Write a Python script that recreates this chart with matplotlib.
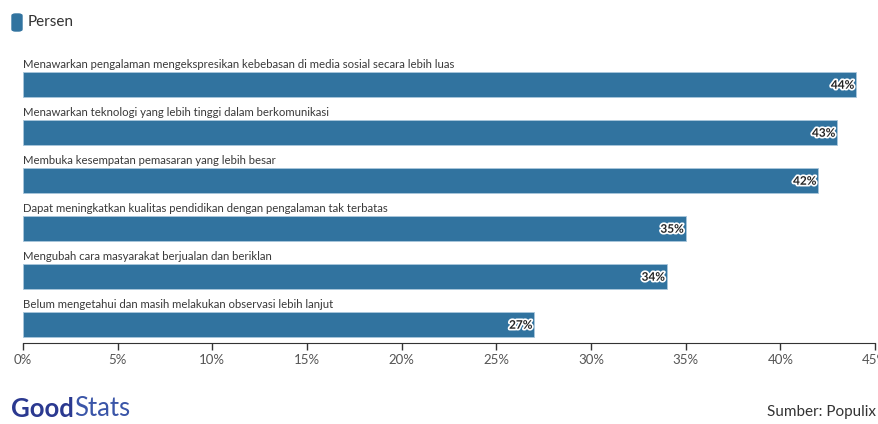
import matplotlib.pyplot as plt
import matplotlib.patheffects as pe
from matplotlib.patches import FancyBboxPatch

categories = [
    "Menawarkan pengalaman mengekspresikan kebebasan di media sosial secara lebih luas",
    "Menawarkan teknologi yang lebih tinggi dalam berkomunikasi",
    "Membuka kesempatan pemasaran yang lebih besar",
    "Dapat meningkatkan kualitas pendidikan dengan pengalaman tak terbatas",
    "Mengubah cara masyarakat berjualan dan beriklan",
    "Belum mengetahui dan masih melakukan observasi lebih lanjut",
]
values = [44, 43, 42, 35, 34, 27]
ticks = [0, 5, 10, 15, 20, 25, 30, 35, 40, 45]

bar_color = "#31739f"
plt.rcParams['font.family'] = ['Lato', 'DejaVu Sans']

fig = plt.figure(figsize=(8.79, 4.24), dpi=100)
ax = fig.add_axes([23/879, 1-343/424, 852/879, (343-55)/424])

ypos = list(range(len(values)))
ax.barh(ypos, values, height=0.52, color=bar_color, edgecolor="#a9c7dc", linewidth=0.6)

for y, v, c in zip(ypos, values, categories):
    ax.text(0, y - 0.30, c, ha="left", va="bottom", fontsize=8.2, color="#3a3a3a")
    ax.text(v - 0.1, y + 0.02, f"{v}%", ha="right", va="center", fontsize=8.5,
            fontweight="bold", color="#222222",
            path_effects=[pe.withStroke(linewidth=2.5, foreground="white")])

ax.set_xlim(0, 45)
ax.set_ylim(5.39, -0.61)
ax.set_xticks(ticks)
ax.set_xticklabels([f"{t}%" for t in ticks], fontsize=9.5, color="#555555")
ax.set_yticks([])
for s in ["top", "right", "left"]:
    ax.spines[s].set_visible(False)
ax.spines["bottom"].set_color("#333333")
ax.tick_params(axis="x", length=5, width=1, color="#333333", pad=3)

# legend
fig.patches.append(FancyBboxPatch((12/879, 1-31/424), 10/879, 17/424,
                                  boxstyle="round,pad=0,rounding_size=0.004",
                                  transform=fig.transFigure, color=bar_color))
fig.text(28/879, 1-22/424, "Persen", fontsize=11, va="center", ha="left", color="#333333")

# footer
good = fig.text(11/879, 1-409/424, "Good", fontsize=18.5, fontweight="bold", color="#2b3990", va="center")
fig.canvas.draw()
bb = good.get_window_extent()
fig.text(bb.x1 / 879, 1-409/424, "Stats", fontsize=18.5, color="#3a55a8", va="center")
fig.text(876/879, 1-412/424, "Sumber: Populix", fontsize=11, color="#333333", ha="right", va="center")

fig.savefig("out.png", dpi=100)
